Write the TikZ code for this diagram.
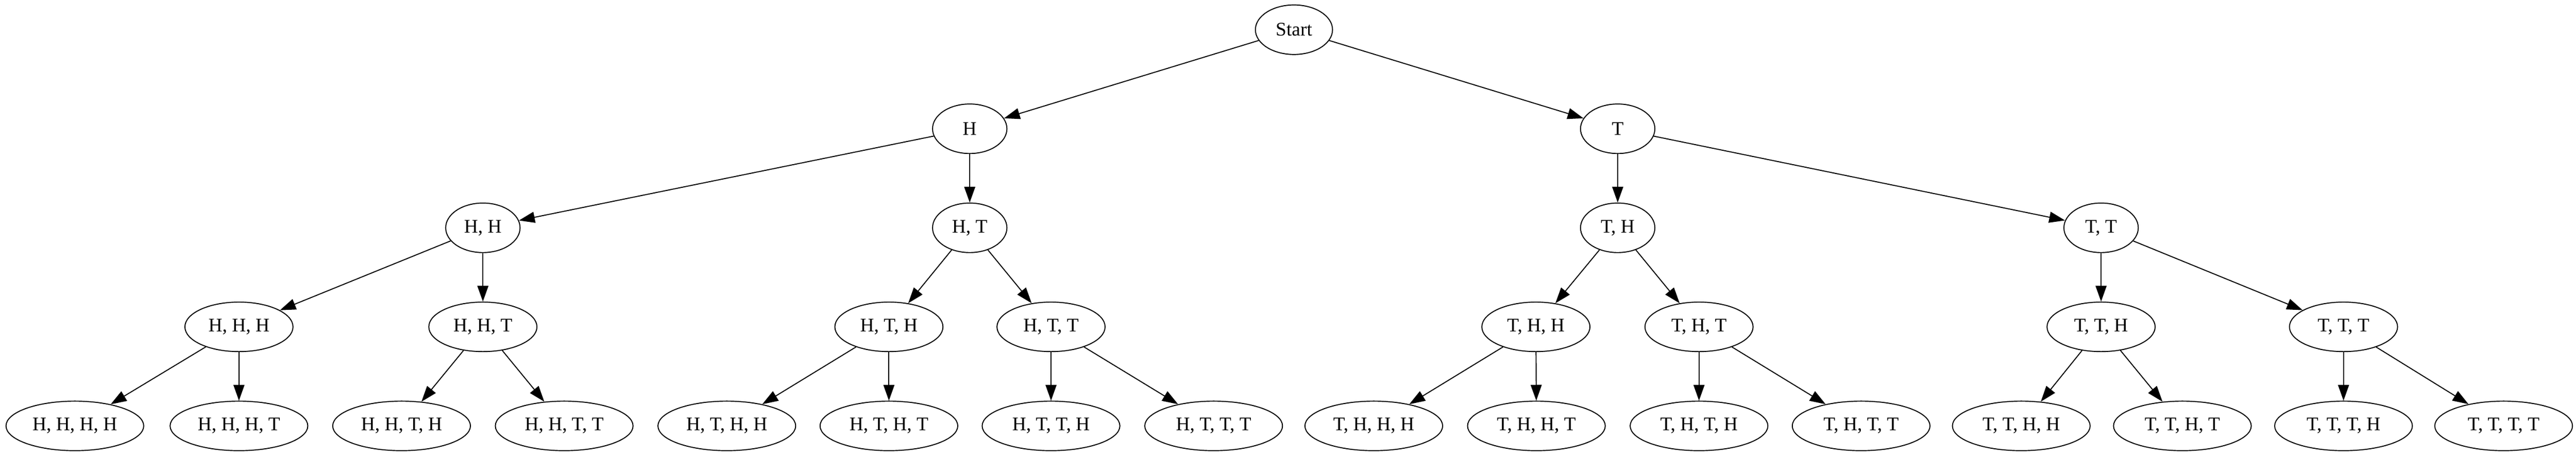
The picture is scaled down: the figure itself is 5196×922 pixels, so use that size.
\documentclass[tikz,border=0pt]{standalone}
\usepackage{fontspec}
\setmainfont{Liberation Serif}
\usetikzlibrary{shapes.geometric,arrows.meta}
\tikzset{
  base/.style={ellipse, draw, line width=0.72pt, inner sep=0pt, minimum height=36pt, font=\fontsize{14pt}{16pt}\selectfont},
  small/.style={base, minimum width=54pt},
  root/.style={base, minimum width=56pt},
  mid/.style={base, minimum width=78.5pt},
  leaf/.style={base, minimum width=100pt},
  edge/.style={line width=0.72pt, -{Triangle[length=11.5pt,width=8pt]}}
}
\begin{document}
\begin{tikzpicture}[x=0.36pt,y=-0.36pt]
\useasboundingbox (0,0) rectangle (5196,922);
\node[root] (S) at (2610,60) {Start};
\node[small] (H) at (1956,260) {H};
\node[small] (T) at (3263,260) {T};
\node[small] (HH) at (974,460) {H, H};
\node[small] (HT) at (1956,460) {H, T};
\node[small] (TH) at (3263,460) {T, H};
\node[small] (TT) at (4238,460) {T, T};
\node[mid] (HHH) at (482,660) {H, H, H};
\node[mid] (HHT) at (974,660) {H, H, T};
\node[mid] (HTH) at (1793,660) {H, T, H};
\node[mid] (HTT) at (2120,660) {H, T, T};
\node[mid] (THH) at (3098,660) {T, H, H};
\node[mid] (THT) at (3427,660) {T, H, T};
\node[mid] (TTH) at (4238,660) {T, T, H};
\node[mid] (TTT) at (4727,660) {T, T, T};
\node[leaf] (HHHH) at (151,860) {H, H, H, H};
\node[leaf] (HHHT) at (482,860) {H, H, H, T};
\node[leaf] (HHTH) at (810,860) {H, H, T, H};
\node[leaf] (HHTT) at (1138,860) {H, H, T, T};
\node[leaf] (HTHH) at (1466,860) {H, T, H, H};
\node[leaf] (HTHT) at (1793,860) {H, T, H, T};
\node[leaf] (HTTH) at (2120,860) {H, T, T, H};
\node[leaf] (HTTT) at (2448,860) {H, T, T, T};
\node[leaf] (THHH) at (2771,860) {T, H, H, H};
\node[leaf] (THHT) at (3099,860) {T, H, H, T};
\node[leaf] (THTH) at (3427,860) {T, H, T, H};
\node[leaf] (THTT) at (3754,860) {T, H, T, T};
\node[leaf] (TTHH) at (4077,860) {T, T, H, H};
\node[leaf] (TTHT) at (4402,860) {T, T, H, T};
\node[leaf] (TTTH) at (4727,860) {T, T, T, H};
\node[leaf] (TTTT) at (5050,860) {T, T, T, T};
\foreach \a/\b in {S/H,S/T,H/HH,H/HT,T/TH,T/TT,
  HH/HHH,HH/HHT,HT/HTH,HT/HTT,TH/THH,TH/THT,TT/TTH,TT/TTT,
  HHH/HHHH,HHH/HHHT,HHT/HHTH,HHT/HHTT,HTH/HTHH,HTH/HTHT,HTT/HTTH,HTT/HTTT,
  THH/THHH,THH/THHT,THT/THTH,THT/THTT,TTH/TTHH,TTH/TTHT,TTT/TTTH,TTT/TTTT}
  \draw[edge] (\a) -- (\b);
\end{tikzpicture}
\end{document}
